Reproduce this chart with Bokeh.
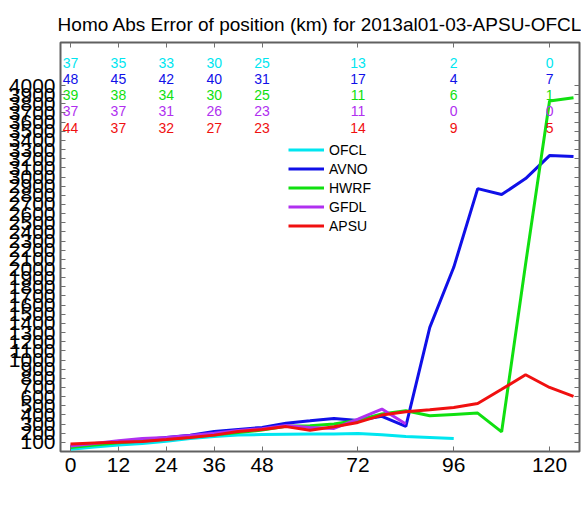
from bokeh.plotting import figure
from bokeh.models import (LinearAxis, FixedTicker, Range1d, Legend, LegendItem,
                          ColumnDataSource)
from bokeh.core.properties import value
from bokeh.embed import file_html
from bokeh.resources import INLINE

title_text = "Homo Abs Error of position (km) for 2013al01-03-APSU-OFCL"

hours = [0, 6, 12, 18, 24, 30, 36, 42, 48, 54, 60, 66, 72, 78, 84, 90, 96,
         102, 108, 114, 120, 126]

ofcl = [25, 48, 70, 87, 113, 142, 164, 179, 186, 188, 190, 192, 197, 183, 164, 153, 142]
avno = [55, 80, 105, 125, 153, 179, 219, 241, 263, 310, 335, 361, 340, 385, 274,
        1356, 2013, 2873, 2808, 2983, 3234, 3223]
hwrf = [45, 70, 95, 115, 135, 155, 180, 208, 234, 275, 281, 300, 343, 409, 445,
        390, 405, 420, 215, 2050, 3830, 3865]
gfdl = [60, 88, 117, 142, 153, 175, 200, 230, 250, 285, 263, 252, 354, 464, 300]
apsu = [83, 93, 100, 110, 131, 153, 179, 219, 241, 272, 232, 270, 318, 398, 434,
        456, 481, 525, 680, 839, 700, 602]

count_hours = [0, 12, 24, 36, 48, 72, 96, 120]
count_ofcl = [37, 35, 33, 30, 25, 13, 2, 0]
count_avno = [48, 45, 42, 40, 31, 17, 4, 7]
count_hwrf = [39, 38, 34, 30, 25, 11, 6, 1]
count_gfdl = [37, 37, 31, 26, 23, 11, 0, 0]
count_apsu = [44, 37, 32, 27, 23, 14, 9, 5]

x_ticks = [0, 12, 24, 36, 48, 72, 96, 120]
y_ticks = list(range(100, 4001, 100))

names = ["OFCL", "AVNO", "HWRF", "GFDL", "APSU"]
colors = ["#00e6f0", "#1010e8", "#10e010", "#b030f0", "#f01010"]
series = [ofcl, avno, hwrf, gfdl, apsu]
counts = [count_ofcl, count_avno, count_hwrf, count_gfdl, count_apsu]

FONT = "Liberation Sans"
count_top = 4250
count_step = 178

p = figure(frame_width=519, frame_height=409,
           x_range=Range1d(-2.5, 127.5), y_range=Range1d(0, 4470),
           output_backend="svg", toolbar_location=None,
           x_axis_location=None, y_axis_location=None,
           min_border_left=60, min_border_top=42, min_border_right=2,
           min_border_bottom=45)
p.grid.visible = False
p.background_fill_color = "white"
p.border_fill_color = "white"
p.outline_line_color = "#606060"
p.outline_line_width = 2

p.title.text = title_text
p.title.align = "center"
p.title.text_font = FONT
p.title.text_font_size = "19px"
p.title.text_font_style = "normal"
p.title.text_color = "black"
p.title.standoff = 16


def make_axis(ticks, show_labels):
    ax = LinearAxis(ticker=FixedTicker(ticks=ticks, minor_ticks=[]))
    ax.axis_line_color = None
    ax.major_tick_in = 5
    ax.major_tick_out = 0
    ax.major_tick_line_color = "#707070"
    ax.major_tick_line_width = 1
    ax.minor_tick_line_color = None
    if show_labels:
        ax.major_label_text_font = FONT
        ax.major_label_text_font_size = "21px"
        ax.major_label_text_color = "black"
        ax.major_label_standoff = 5
    else:
        ax.major_label_text_font_size = "0px"
        ax.major_label_text_color = None
        ax.major_label_standoff = 0
    return ax


bottom_axis = make_axis(x_ticks, True)
bottom_axis.major_label_standoff = 6
p.add_layout(bottom_axis, "below")
p.add_layout(make_axis(y_ticks, True), "left")
p.add_layout(make_axis(x_ticks, False), "above")
p.add_layout(make_axis(y_ticks, False), "right")

items = []
for name, color, vals in zip(names, colors, series):
    src = ColumnDataSource(dict(x=hours[:len(vals)], y=vals))
    r = p.line("x", "y", source=src, line_color=color, line_width=3)
    items.append(LegendItem(label=name, renderers=[r]))

for i, (color, cnt) in enumerate(zip(colors, counts)):
    src = ColumnDataSource(dict(x=count_hours, y=[count_top - i * count_step] * len(cnt),
                                t=[str(c) for c in cnt]))
    p.text("x", "y", text="t", source=src, text_color=color,
           text_font=value(FONT), text_font_size="14px",
           text_align="center", text_baseline="middle")

legend = Legend(items=items, location=(228, 216), orientation="vertical")
legend.border_line_color = None
legend.background_fill_alpha = 0
legend.padding = 0
legend.margin = 0
legend.spacing = 0
legend.glyph_width = 36
legend.glyph_height = 19
legend.label_height = 19
legend.label_standoff = 5
legend.label_text_font = FONT
legend.label_text_font_size = "14px"
legend.label_text_color = "black"
p.add_layout(legend)

open("out.html", "w").write(file_html(p, INLINE))
